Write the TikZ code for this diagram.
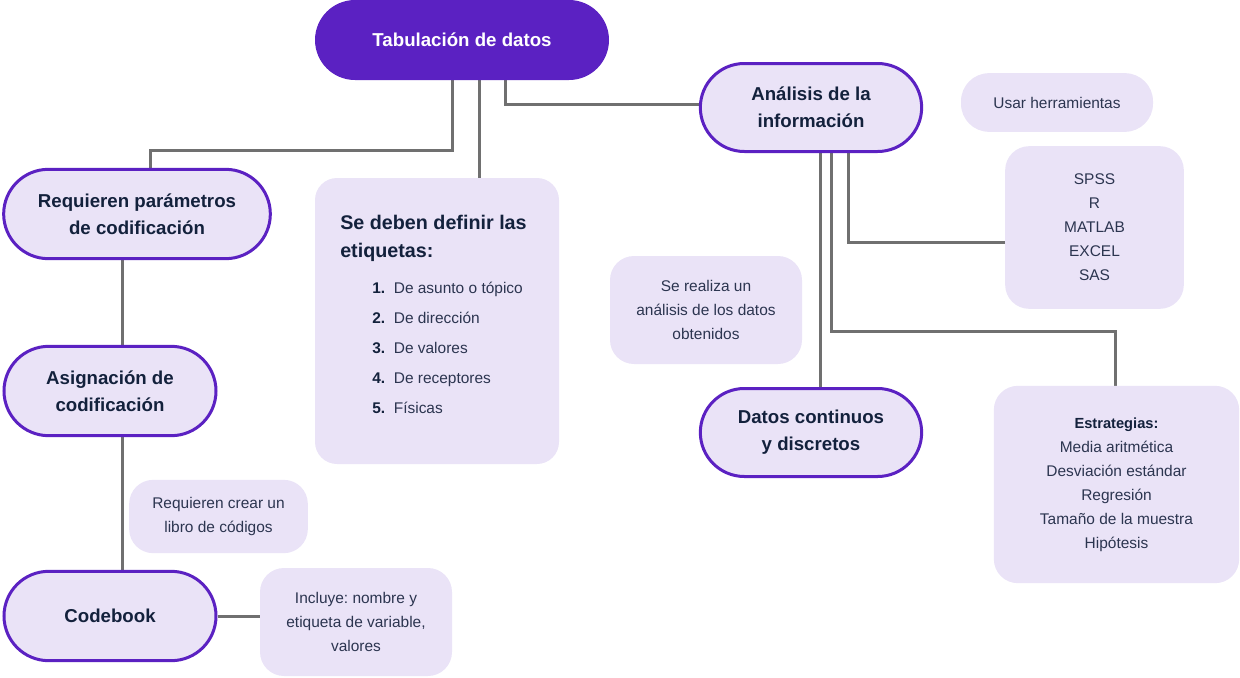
\documentclass[tikz,border=0pt]{standalone}
\usepackage{fontspec}
\setmainfont{Liberation Sans}
\usepackage{xcolor}
\usepackage{tikz}
\usetikzlibrary{
  shapes.misc,
  positioning,
  calc,
  backgrounds
}
\frenchspacing
\definecolor{tdPurple}{HTML}{5B21C2}
\definecolor{tdLav}{HTML}{EAE3F7}
\definecolor{tdInk}{HTML}{13213C}
\definecolor{tdText}{HTML}{2C3550}
\definecolor{tdLine}{HTML}{707070}
\tikzset{
  tdnode/.style={align=center, inner sep=0pt},
  mainpill/.style={
    tdnode, rounded rectangle, fill=tdPurple, text=white,
    font=\fontsize{14}{18}\selectfont\bfseries,
    minimum width=220.5pt, minimum height=60pt
  },
  pill/.style={
    tdnode, rounded rectangle, draw=tdPurple, line width=2.25pt, fill=tdLav,
    text=tdInk, font=\fontsize{14}{20}\selectfont\bfseries
  },
  infobox/.style={
    tdnode, rectangle, rounded corners=18pt, fill=tdLav, text=tdText,
    font=\fontsize{11.6}{18}\selectfont
  },
  headtext/.style={tdnode, align=left, text=tdInk, font=\fontsize{14.8}{21}\selectfont\bfseries},
  listtext/.style={tdnode, align=left, text=tdText, font=\fontsize{11.6}{22.5}\selectfont},
  link/.style={draw=tdLine, line width=2.25pt}
}
\newcommand{\tdnum}[1]{\textcolor{tdInk}{\textbf{#1.}}\hspace{6.5pt}}

\begin{document}
\begin{tikzpicture}[x=0.75pt, y=-0.75pt]
  \useasboundingbox (0,0) rectangle (1240,678);
  % main branch
  \node[mainpill] (titulo) at (462,40) {Tabulación de datos};
  \node[pill, minimum width=200pt, minimum height=67pt] (reqpar) at (137,214) {Requieren parámetros\\de codificación};
  \node[pill, minimum width=159pt, minimum height=67pt] (asig) at (110,391) {Asignación de\\codificación};
  \node[pill, minimum width=159pt, minimum height=67pt] (codebook) at (110,616) {Codebook};
  \node[pill, minimum width=166pt, minimum height=66pt] (analisis) at (811,107.5) {Análisis de la\\información};
  \node[pill, minimum width=166pt, minimum height=66pt] (datos) at (811,432.5) {Datos continuos\\y discretos};
  % info boxes
  \node[infobox, minimum width=183pt, minimum height=214.5pt, rounded corners=16.5pt] (etiq) at (437,321) {};
  \node[headtext, anchor=base west] (etiqhead) at (340,257) {Se deben definir las\\etiquetas:};
  \node[listtext, anchor=base west] (etiqlist) at (372,413) {\tdnum{1}De asunto o tópico\\\tdnum{2}De dirección\\\tdnum{3}De valores\\\tdnum{4}De receptores\\\tdnum{5}Físicas};
  \node[infobox, minimum width=144pt, minimum height=44pt, rounded corners=21pt] (herr) at (1057,102.5) {Usar herramientas};
  \node[infobox, minimum width=134pt, minimum height=122pt] (spss) at (1094.5,227.5) {SPSS\\R\\MATLAB\\EXCEL\\SAS};
  \node[infobox, minimum width=144pt, minimum height=81pt] (realiza) at (706,310) {Se realiza un\\análisis de los datos\\obtenidos};
  \node[infobox, minimum width=184pt, minimum height=148pt] (estrat) at (1116.5,484.5) {{\fontsize{11}{18}\selectfont\bfseries\color{tdInk}Estrategias:}\\Media aritmética\\Desviación estándar\\Regresión\\Tamaño de la muestra\\Hipótesis};
  \node[infobox, minimum width=134pt, minimum height=55pt] (libro) at (218.5,516.5) {Requieren crear un\\libro de códigos};
  \node[infobox, minimum width=144pt, minimum height=81pt] (incluye) at (356,622) {Incluye: nombre y\\etiqueta de variable,\\valores};
  % connectors
  \begin{scope}[on background layer]
    \draw[link] ([xshift=-7.5pt]titulo.south) -- ++(0,70) -| ([xshift=9.75pt]reqpar.north);
    \path ([xshift=12.75pt]titulo.south) coordinate (t2);
    \draw[link] (t2) -- (t2 |- etiq.north);
    \draw[link] ([xshift=32.25pt]titulo.south) |- ([yshift=2.5pt]analisis.west);
    \path ([xshift=9pt]asig.north) coordinate (a1);
    \draw[link] (a1 |- reqpar.south) -- (a1);
    \draw[link] (a1 |- asig.south) -- (a1 |- codebook.north);
    \draw[link] (codebook.east) -- (codebook.east -| incluye.west);
    \path ([xshift=6.75pt]analisis.south) coordinate (b1);
    \path ([xshift=15pt]analisis.south) coordinate (b2);
    \path ([xshift=27.75pt]analisis.south) coordinate (b3);
    \draw[link] (b1) -- (b1 |- datos.north);
    \draw[link] (b2) -- ++(0,178) -| ([xshift=-1pt]estrat.north);
    \draw[link] (b3) |- ([yshift=-10.9pt]spss.west);
  \end{scope}
\end{tikzpicture}
\end{document}
